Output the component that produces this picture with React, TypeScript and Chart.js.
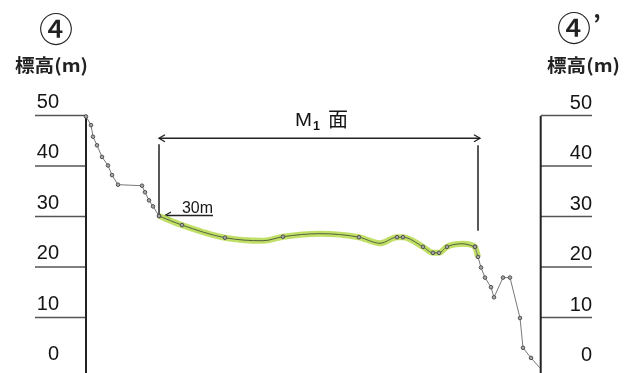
import React, { useEffect, useRef } from "react";
import { Chart, registerables } from "chart.js";

Chart.register(...registerables);

// horizontal distance (arbitrary units along the profile) and elevation (m)
const profileDist = [
  0, 5, 7, 11, 16, 22, 26, 32, 56, 59, 63, 67, 73,
  96, 139, 177, 197, 234, 273, 294, 311, 317, 337, 347, 353, 361, 377, 389,
  392, 395, 399, 405, 408, 417, 424, 434, 437, 445, 454,
];
const profileElev = [
  49.8, 48.1, 45.8, 44.1, 41.8, 40.1, 38.2, 36.3, 36.1, 34.8, 33.2, 32.0, 30.1,
  28.3, 25.8, 25.2, 26.0, 26.6, 25.9, 24.7, 25.9, 25.9, 24.0, 22.8, 22.8, 24.0, 24.6, 24.0,
  22.0, 19.9, 17.9, 16.0, 14.0, 17.9, 17.9, 9.9, 4.0, 2.0, 0,
];
const profileMarked = [
  1, 1, 1, 1, 1, 1, 1, 1, 1, 1, 1, 1, 1,
  1, 1, 0, 1, 0, 1, 0, 1, 1, 1, 1, 1, 1, 0, 1,
  1, 1, 1, 1, 1, 1, 1, 1, 1, 1, 0,
];
const surfaceStart = 12; // M1 surface (green) index range
const surfaceEnd = 28;
const yTicks = [50, 40, 30, 20, 10, 0];
const surfaceLabel = "M₁面";
const bracketDist = [73, 392];
const bracketTop = 45.5;
const bracketBottoms = [30.5, 27.2];
const elevTitle = "標高(m)";

function pts(a: number, b: number) {
  const out: { x: number; y: number }[] = [];
  for (let i = a; i <= b; i++) out.push({ x: profileDist[i], y: profileElev[i] });
  return out;
}
function radii(a: number, b: number) {
  const out: number[] = [];
  for (let i = a; i <= b; i++) out.push(profileMarked[i] ? 1.8 : 0);
  return out;
}

function fitText(ctx: CanvasRenderingContext2D, text: string, x: number, y: number, width: number, align: CanvasTextAlign) {
  const w = ctx.measureText(text).width;
  const s = width / w;
  ctx.save();
  ctx.translate(x, y);
  ctx.scale(s, 1);
  ctx.textAlign = align;
  ctx.fillText(text, 0, 0);
  ctx.restore();
}

function arrowHead(ctx: CanvasRenderingContext2D, x: number, y: number, dir: number) {
  ctx.beginPath();
  ctx.moveTo(x + dir * -6, y - 3.5);
  ctx.lineTo(x, y);
  ctx.lineTo(x + dir * -6, y + 3.5);
  ctx.stroke();
}

const decor = {
  id: "decor",
  beforeDatasetsDraw(chart: any) {
    const ctx: CanvasRenderingContext2D = chart.ctx;
    const xs = chart.scales.x;
    const ys = chart.scales.y;
    const left = chart.chartArea.left;
    const right = chart.chartArea.right;
    ctx.save();
    // tick lines
    ctx.strokeStyle = "#555";
    ctx.lineWidth = 1.3;
    ctx.fillStyle = "#151515";
    ctx.font = "20px 'Liberation Sans'";
    ctx.textBaseline = "alphabetic";
    for (const v of yTicks) {
      const y = ys.getPixelForValue(v);
      if (v !== 0) {
        ctx.beginPath();
        ctx.moveTo(35, y);
        ctx.lineTo(left, y);
        ctx.moveTo(right, y);
        ctx.lineTo(592, y);
        ctx.stroke();
      }
      const txt = String(v);
      ctx.textAlign = "right";
      ctx.fillText(txt, 59, y - 8);
      ctx.fillText(txt, 592, y - 7);
    }
    // axis lines
    ctx.strokeStyle = "#222";
    ctx.lineWidth = 2;
    ctx.beginPath();
    ctx.moveTo(left, ys.getPixelForValue(50) - 0.5);
    ctx.lineTo(left, 373);
    ctx.moveTo(right, ys.getPixelForValue(50) + 0.5);
    ctx.lineTo(right, 373);
    ctx.stroke();

    // titles
    ctx.fillStyle = "#222";
    ctx.textBaseline = "middle";
    ctx.font = "500 34px 'Noto Sans CJK JP'";
    ctx.textAlign = "center";
    ctx.fillText("④", 56, 29);
    ctx.fillText("④", 574, 28);
    ctx.font = "bold 24px 'Noto Sans CJK JP'";
    ctx.fillText("’", 597, 24);
    ctx.font = "bold 18px 'Noto Sans CJK JP'";
    fitText(ctx, elevTitle, 15, 65, 73, "left");
    fitText(ctx, elevTitle, 547, 65, 73, "left");

    // M1 bracket
    const bx0 = xs.getPixelForValue(bracketDist[0]);
    const bx1 = xs.getPixelForValue(bracketDist[1]);
    const by = ys.getPixelForValue(bracketTop);
    ctx.strokeStyle = "#222";
    ctx.lineWidth = 1.5;
    ctx.beginPath();
    ctx.moveTo(bx0, by + 6);
    ctx.lineTo(bx0, ys.getPixelForValue(bracketBottoms[0]));
    ctx.moveTo(bx1, by + 7);
    ctx.lineTo(bx1, ys.getPixelForValue(bracketBottoms[1]));
    ctx.stroke();
    ctx.lineWidth = 1.3;
    ctx.beginPath();
    ctx.moveTo(bx0, by);
    ctx.lineTo(bx1 + 2, by);
    ctx.stroke();
    arrowHead(ctx, bx0, by, -1);
    arrowHead(ctx, bx1 + 2, by, 1);

    // label M1面
    ctx.fillStyle = "#151515";
    ctx.textBaseline = "alphabetic";
    ctx.textAlign = "left";
    ctx.font = "19px 'Liberation Sans'";
    fitText(ctx, surfaceLabel.charAt(0), 295, 126, 17, "left");
    ctx.font = "bold 13px 'Liberation Sans'";
    fitText(ctx, "1", 313, 130, 7, "left");
    ctx.font = "20px 'Noto Sans CJK JP'";
    fitText(ctx, surfaceLabel.charAt(2), 328, 127, 20, "left");

    // 30m pointer
    const px = xs.getPixelForValue(profileDist[surfaceStart]);
    const py = ys.getPixelForValue(profileElev[surfaceStart]) - 0.5;
    ctx.font = "16px 'Liberation Sans'";
    fitText(ctx, "30m", 182, 213, 31, "left");
    ctx.strokeStyle = "#222";
    ctx.lineWidth = 1.3;
    ctx.beginPath();
    ctx.moveTo(213, py);
    ctx.lineTo(px + 6, py);
    ctx.stroke();
    arrowHead(ctx, px + 6, py, -1);
    ctx.restore();
  },
};

export default function App() {
  const ref = useRef<HTMLCanvasElement>(null);
  useEffect(() => {
    if (!ref.current) return;
    const markerBg = "#a8a8a8";
    const markerBorder = "#505050";
    const chart = new Chart(ref.current, {
      type: "scatter",
      data: {
        datasets: [
          {
            data: pts(surfaceStart, surfaceEnd),
            showLine: true,
            borderColor: "rgba(185,220,85,0.9)",
            borderWidth: 6,
            cubicInterpolationMode: "monotone",
            pointRadius: 0,
            clip: false,
            order: 3,
          } as any,
          {
            data: pts(0, surfaceStart),
            showLine: true,
            borderColor: "#777",
            borderWidth: 1,
            pointRadius: radii(0, surfaceStart),
            pointBackgroundColor: markerBg,
            pointBorderColor: markerBorder,
            pointBorderWidth: 1,
            clip: false,
            order: 1,
          },
          {
            data: pts(surfaceStart, 27),
            showLine: true,
            borderColor: "#55603e",
            borderWidth: 1,
            cubicInterpolationMode: "monotone",
            pointRadius: radii(surfaceStart, 27),
            pointBackgroundColor: markerBg,
            pointBorderColor: markerBorder,
            pointBorderWidth: 1,
            clip: false,
            order: 1,
          } as any,
          {
            data: pts(27, profileDist.length - 1),
            showLine: true,
            borderColor: "#777",
            borderWidth: 1,
            pointRadius: radii(27, profileDist.length - 1),
            pointBackgroundColor: markerBg,
            pointBorderColor: markerBorder,
            pointBorderWidth: 1,
            clip: false,
            order: 1,
          },
        ],
      },
      options: {
        responsive: false,
        animation: false,
        layout: { padding: { left: 86, right: 103.3, top: 115.5, bottom: 0 } },
        plugins: { legend: { display: false }, tooltip: { enabled: false } },
        scales: {
          x: { type: "linear", min: 0, max: 454.7, display: false },
          y: { type: "linear", min: 0, max: 50, display: false },
        },
      },
      plugins: [decor],
    });
    return () => chart.destroy();
  }, []);
  return (
    <div style={{ position: "absolute", left: 0, top: 0, width: 644, height: 373, background: "#fff" }}>
      <canvas ref={ref} width={644} height={373} />
    </div>
  );
}
